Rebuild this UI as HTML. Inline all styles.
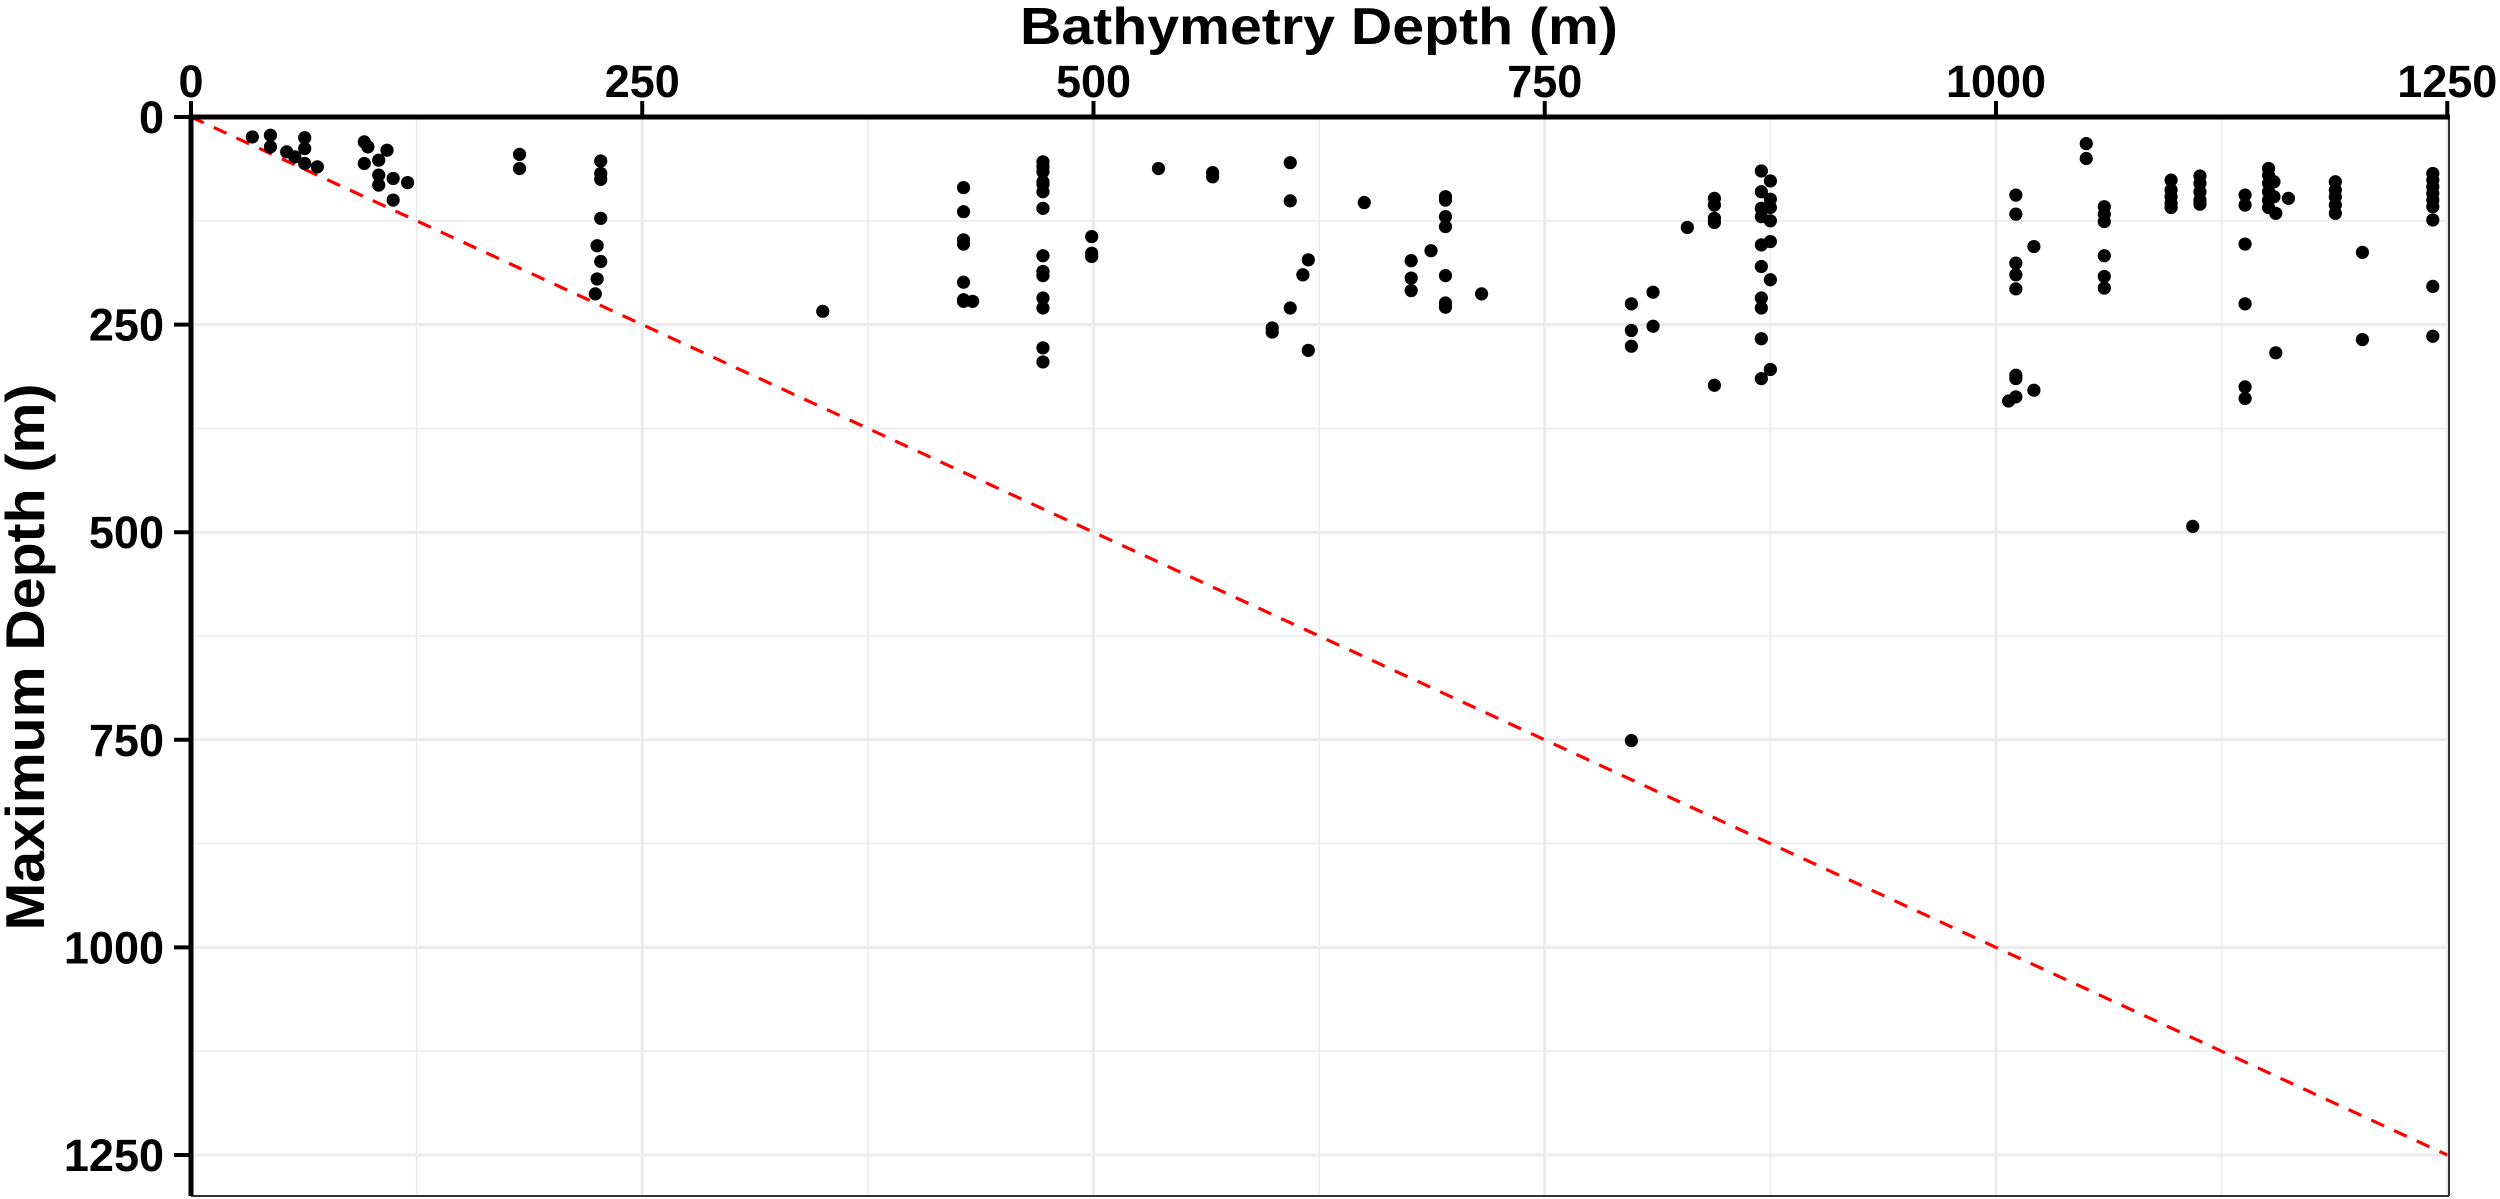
<!DOCTYPE html>
<html><head><meta charset="utf-8"><style>
html,body{margin:0;padding:0;background:#fff;}
svg{display:block;font-family:"Liberation Sans",Arial,sans-serif;font-weight:bold;}
</style></head><body>
<svg id="chart" width="2500" height="1199" viewBox="0 0 2500 1199" xmlns="http://www.w3.org/2000/svg">
<rect width="2500" height="1199" fill="#fff"/>
<g id="grid"></g>
<g id="refline"></g>
<g id="points"></g>
<g id="axes"></g>
<text x="1319" y="44" text-anchor="middle" font-size="52" textLength="598" lengthAdjust="spacingAndGlyphs">Bathymetry Depth (m)</text>
<text transform="translate(44,657) rotate(-90)" text-anchor="middle" font-size="55" textLength="547" lengthAdjust="spacingAndGlyphs">Maximum Depth (m)</text>
</svg>
<script>
const xTicks = [0, 250, 500, 750, 1000, 1250];
const yTicks = [0, 250, 500, 750, 1000, 1250];
const xMinor = [125, 375, 625, 875, 1125];
const yMinor = [125, 375, 625, 875, 1125];
const bathyX = [34,44,44,53,57.5,63,63,63,70,96,96,98,104,104,104,108.6,112,112,120,182,182,227,227,227,227,225,227,225,224,
350,428,428,428,428,428,428,428,433,472,472,472,472,472,472,472,472,472,472,472,472,472,472,499,499,499,536,566,566,609,609,609,619,619,616,599,599,
650,695,695,695,695,695,695,695,676,676,676,687,715,798,798,798,810,810,829,844,844,844,844,844,870,870,870,870,870,870,870,870,870,870,875,875,875,875,875,875,875,
1011,1011,1011,1011,1011,1011,1011,1011,1007,1021,1021,1050,1050,1060,1060,1060,1060,1060,1060,1109,1097,1097,1097,1097,1097,1113,1113,1113,1113,1113,
1138,1138,1138,1138,1138,1138,1151,1151,1151,1151,1151,1151,1154,1154,1155,1155,1162,1188,1188,1188,1188,1188,1203,1203,1242,1242,1242,1242,1242,1242,1242,1242,1242,798];
const maxDepthY = [24,22,36,42,48,25,38,56,60,30,56,36,52,70,82,40,74,100,79,45,62,53,68,75,122,155,174,195,213,
234,85,114,148,153,199,220,222,222,54,60,66,78,81,90,110,167,186,191,218,230,278,295,144,164,168,62,67,72,55,101,230,172,281,190,254,259,
103,96,100,120,132,191,224,229,173,194,209,161,213,225,257,276,211,252,133,98,106,122,127,323,65,90,110,120,154,180,218,230,267,315,77,99,109,125,150,196,304,
94,117,176,190,207,311,315,337,342,156,329,32,50,108,117,126,167,192,206,493,76,88,96,104,109,71,80,90,100,105,
94,106,153,225,325,339,62,70,80,90,100,109,78,96,116,284,98,78,88,96,106,116,163,268,68,76,84,92,100,108,124,204,264,751];

const X0 = 191, XS = 1.805, Y0 = 117, YS = 0.8304;
const PL = 191, PR = 2449, PT = 117, PB = 1196;
const sx = v => X0 + v * XS;
const sy = v => Y0 + v * YS;
const NS = "http://www.w3.org/2000/svg";
function mk(tag, attrs, parent) {
  const e = document.createElementNS(NS, tag);
  for (const k in attrs) e.setAttribute(k, attrs[k]);
  parent.appendChild(e);
  return e;
}
const grid = document.getElementById('grid');
xMinor.forEach(v => {
  const l = mk('line', {x1: sx(v), x2: sx(v), y1: PT, y2: PB, stroke: '#ebebeb', 'stroke-width': 1.6}, grid);
  
  
});
yMinor.forEach(v => {
  const l = mk('line', {x1: PL, x2: PR, y1: sy(v), y2: sy(v), stroke: '#ebebeb', 'stroke-width': 1.6}, grid);
  
  
});
xTicks.forEach(v => {
  const l = mk('line', {x1: sx(v), x2: sx(v), y1: PT, y2: PB, stroke: '#ebebeb', 'stroke-width': 3}, grid);
  
  
});
yTicks.forEach(v => {
  const l = mk('line', {x1: PL, x2: PR, y1: sy(v), y2: sy(v), stroke: '#ebebeb', 'stroke-width': 3}, grid);
  
  
});
// reference line y = x
const ref = document.getElementById('refline');
const rl = mk('line', {x1: sx(0), y1: sy(0), x2: sx(1250), y2: sy(1250), stroke: '#ff0000', 'stroke-width': 3.2, 'stroke-dasharray': '14 11'}, ref);


// points
const pts = document.getElementById('points');
bathyX.forEach((v, i) => {
  const c = mk('circle', {cx: sx(v), cy: sy(maxDepthY[i]), r: 6.6, fill: '#000'}, pts);
  
  
});
// axes
const ax = document.getElementById('axes');
const rb = mk('line', {x1: PR, x2: PR, y1: PT, y2: PB, stroke: '#333', 'stroke-width': 2}, ax);


const bb = mk('line', {x1: PL, x2: PR, y1: PB, y2: PB, stroke: '#333', 'stroke-width': 2}, ax);


const xa = mk('line', {x1: PL - 2.5, x2: PR + 1, y1: PT, y2: PT, stroke: '#000', 'stroke-width': 5}, ax);


const ya = mk('line', {x1: PL, x2: PL, y1: PT - 2.5, y2: PB, stroke: '#000', 'stroke-width': 5}, ax);


xTicks.forEach(v => {
  const t = mk('line', {x1: sx(v), x2: sx(v), y1: 101, y2: PT, stroke: '#000', 'stroke-width': 4}, ax);
  
  
  const lb = mk('text', {x: sx(v), y: 97, 'text-anchor': 'middle', 'font-size': 45}, ax);
  lb.textContent = String(v);
  
  
});
yTicks.forEach(v => {
  const t = mk('line', {x1: 174, x2: PL, y1: sy(v), y2: sy(v), stroke: '#000', 'stroke-width': 4}, ax);
  
  
  const lb = mk('text', {x: 164, y: sy(v) + 16, 'text-anchor': 'end', 'font-size': 45}, ax);
  lb.textContent = String(v);
  
  
});
</script>
</body></html>
